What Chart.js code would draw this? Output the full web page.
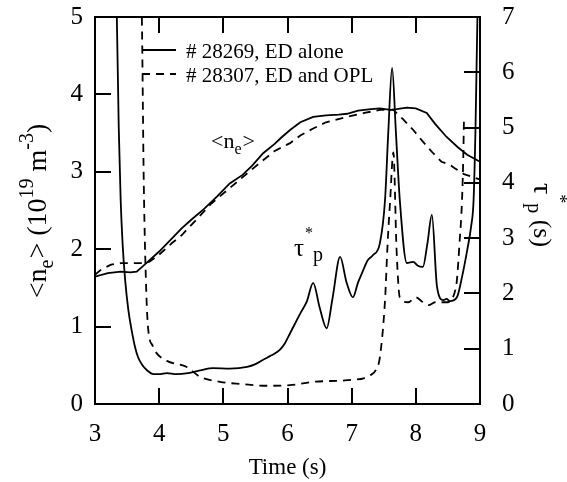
<!DOCTYPE html>
<html>
<head>
<meta charset="utf-8">
<script src="https://cdn.jsdelivr.net/npm/chart.js@4.4.0/dist/chart.umd.min.js"></script>
<style>
  html, body { margin: 0; padding: 0; background: #fff; }
  #wrap { width: 567px; height: 482px; }
</style>
</head>
<body>
<div id="wrap"><canvas id="c" width="567" height="482"></canvas></div>
<script>
// shot 28269 (ED alone) - line average density
const tNeA  = [3.0, 3.2, 3.4, 3.55, 3.65, 3.8, 4.0, 4.2, 4.35, 4.5, 4.7, 4.9, 5.1, 5.3, 5.45, 5.62, 5.8, 5.9, 6.04, 6.2, 6.4, 6.6, 6.8, 6.93, 7.1, 7.3, 7.44, 7.6, 7.7, 7.86, 8.0, 8.17, 8.3, 8.48, 8.65, 8.8, 9.0];
const neA   = [1.645, 1.69, 1.71, 1.70, 1.71, 1.82, 1.97, 2.14, 2.27, 2.38, 2.52, 2.68, 2.85, 2.96, 3.08, 3.24, 3.36, 3.44, 3.54, 3.64, 3.71, 3.73, 3.74, 3.75, 3.79, 3.81, 3.82, 3.80, 3.81, 3.83, 3.82, 3.76, 3.62, 3.45, 3.32, 3.22, 3.13];
// shot 28307 (ED and OPL) - line average density
const tNeB  = [3.0, 3.1, 3.25, 3.4, 3.6, 3.75, 3.85, 4.0, 4.2, 4.35, 4.6, 4.8, 5.1, 5.4, 5.62, 5.8, 6.04, 6.2, 6.4, 6.6, 6.93, 7.2, 7.44, 7.65, 7.8, 7.96, 8.1, 8.27, 8.4, 8.53, 8.6, 8.75, 9.0];
const neB   = [1.67, 1.74, 1.80, 1.82, 1.82, 1.82, 1.84, 1.93, 2.08, 2.18, 2.40, 2.58, 2.79, 3.00, 3.15, 3.27, 3.37, 3.47, 3.56, 3.64, 3.71, 3.76, 3.80, 3.80, 3.68, 3.54, 3.40, 3.24, 3.13, 3.09, 3.05, 2.97, 2.90];
// particle confinement time tau_p* (right axis)
const tTauA = [3.30, 3.34, 3.37, 3.40, 3.43, 3.47, 3.52, 3.57, 3.62, 3.67, 3.74, 3.81, 3.91, 4.0, 4.12, 4.27, 4.45, 4.64, 4.84, 5.1, 5.37, 5.5, 5.62, 5.75, 5.88, 5.96, 6.04, 6.12, 6.2, 6.3, 6.4, 6.5, 6.61, 6.7, 6.82, 6.92, 7.02, 7.1, 7.18, 7.25, 7.33, 7.44, 7.52, 7.57, 7.63, 7.69, 7.75, 7.86, 7.96, 8.03, 8.11, 8.18, 8.25, 8.33, 8.43, 8.48, 8.53, 8.64, 8.72, 8.8, 8.86, 8.9, 8.93, 8.96, 8.98];
const tauA  = [8.0, 7.0, 5.0, 3.69, 2.9, 2.24, 1.7, 1.34, 1.05, 0.85, 0.70, 0.61, 0.54, 0.54, 0.56, 0.54, 0.56, 0.61, 0.65, 0.64, 0.67, 0.72, 0.80, 0.88, 0.98, 1.1, 1.28, 1.46, 1.64, 1.85, 2.19, 1.75, 1.37, 1.9, 2.66, 2.2, 1.93, 2.2, 2.42, 2.6, 2.69, 2.91, 3.69, 4.9, 6.08, 4.9, 3.69, 2.55, 2.57, 2.5, 2.48, 2.9, 3.42, 2.12, 1.88, 1.9, 1.86, 1.93, 2.3, 2.78, 3.2, 3.69, 5.0, 7.0, 8.0];
const tTauB = [3.70, 3.73, 3.76, 3.80, 3.83, 3.9, 3.96, 4.12, 4.43, 4.64, 4.95, 5.3, 5.62, 6.04, 6.4, 6.93, 7.2, 7.29, 7.38, 7.44, 7.52, 7.56, 7.6, 7.65, 7.7, 7.75, 7.88, 8.0, 8.1, 8.2, 8.3, 8.5, 8.6, 8.64, 8.68, 8.72, 8.74, 8.75];
const tauB  = [8.0, 7.0, 4.0, 2.0, 1.34, 1.05, 0.92, 0.78, 0.67, 0.49, 0.40, 0.36, 0.33, 0.34, 0.40, 0.43, 0.47, 0.52, 0.62, 0.85, 1.88, 2.9, 3.69, 4.55, 2.78, 1.93, 1.84, 1.93, 1.85, 1.79, 1.84, 1.84, 2.0, 2.24, 2.9, 3.69, 4.5, 5.15];

const timeTicks = [3, 4, 5, 6, 7, 8, 9];
const neTicks = [0, 1, 2, 3, 4, 5];
const tauTicks = [0, 1, 2, 3, 4, 5, 6, 7];
const legendLabels = ['# 28269, ED alone', '# 28307, ED and OPL'];

const serif = '"Liberation Serif", "Times New Roman", serif';
const pts = (xs, ys) => xs.map((x, i) => ({ x: x, y: ys[i] }));

// draw a run of text pieces [text, size, dy] starting at (x, y)
function pieces(ctx, x, y, list) {
  let cx = x;
  list.forEach(p => {
    ctx.font = p[1] + 'px ' + serif;
    ctx.fillText(p[0], cx, y + p[2]);
    cx += ctx.measureText(p[0]).width + (p[3] || 0);
  });
  return cx - x;
}
function piecesWidth(ctx, list) {
  let w = 0;
  list.forEach(p => {
    ctx.font = p[1] + 'px ' + serif;
    w += ctx.measureText(p[0]).width + (p[3] || 0);
  });
  return w;
}

const decor = {
  id: 'decor',
  afterDraw(chart) {
    const ctx = chart.ctx;
    const a = chart.chartArea;
    const xs = chart.scales.x, y = chart.scales.y, y1 = chart.scales.y1;
    ctx.save();
    ctx.strokeStyle = '#000';
    ctx.fillStyle = '#000';
    ctx.lineWidth = 2;
    ctx.strokeRect(a.left, a.top, a.right - a.left, a.bottom - a.top);
    const tl = 16;
    ctx.beginPath();
    timeTicks.slice(1, -1).forEach(v => {
      const px = Math.round(xs.getPixelForValue(v));
      ctx.moveTo(px, a.bottom); ctx.lineTo(px, a.bottom - tl);
      ctx.moveTo(px, a.top); ctx.lineTo(px, a.top + tl);
    });
    neTicks.slice(1, -1).forEach(v => {
      const py = Math.round(y.getPixelForValue(v));
      ctx.moveTo(a.left, py); ctx.lineTo(a.left + tl, py);
    });
    tauTicks.slice(1, -1).forEach(v => {
      const py = Math.round(y1.getPixelForValue(v));
      ctx.moveTo(a.right, py); ctx.lineTo(a.right - tl, py);
    });
    ctx.stroke();

    // legend
    ctx.lineWidth = 1.8;
    ctx.beginPath();
    ctx.moveTo(142, 50); ctx.lineTo(176, 50);
    ctx.stroke();
    ctx.setLineDash([8, 6]);
    ctx.beginPath();
    ctx.moveTo(142, 74); ctx.lineTo(176, 74);
    ctx.stroke();
    ctx.setLineDash([]);
    ctx.textBaseline = 'alphabetic';
    ctx.textAlign = 'left';
    ctx.font = '21px ' + serif;
    ctx.fillText(legendLabels[0], 186, 58);
    ctx.fillText(legendLabels[1], 186, 82);

    // curve annotations
    pieces(ctx, 211, 148, [['<n', 22, 0], ['e', 16, 6, 1], ['>', 22, 0]]);
    pieces(ctx, 294, 256, [['\u03c4', 25, 0, 1], ['*', 16, -18, 0], ['p', 20, 5]]);

    // left axis title, rotated
    const leftT = [['<n', 28, 0], ['e', 20, 7, 1], ['> (10', 28, 0], ['19', 20, -13], [' m', 28, 0], ['-3', 20, -13], [')', 28, 0]];
    const lw = piecesWidth(ctx, leftT);
    ctx.save();
    ctx.translate(46, 211 + lw / 2);
    ctx.rotate(-Math.PI / 2);
    pieces(ctx, 0, 0, leftT);
    ctx.restore();

    // right axis title, rotated the other way
    const rightT = [['\u03c4', 28, 0, 0], ['*', 18, -20, 0], ['p', 20, 6], [' (s)', 26, 0]];
    const rw = piecesWidth(ctx, rightT);
    ctx.save();
    ctx.translate(534, 215 - rw / 2);
    ctx.rotate(Math.PI / 2);
    pieces(ctx, 0, 0, rightT);
    ctx.restore();
    ctx.restore();
  }
};

const solid = { borderColor: '#000', borderWidth: 1.8, pointRadius: 0, fill: false };

// keep the plot box at fixed pixels, as in the figure
const fitY = w => s => { s.width = w; s.paddingTop = 0; s.paddingBottom = 0; };

new Chart(document.getElementById('c'), {
  type: 'line',
  data: {
    datasets: [
      Object.assign({ label: legendLabels[0], data: pts(tNeA, neA), yAxisID: 'y' }, solid),
      Object.assign({ label: legendLabels[1], data: pts(tNeB, neB), yAxisID: 'y', borderDash: [8, 6] }, solid),
      Object.assign({ label: 'tauA', data: pts(tTauA, tauA), yAxisID: 'y1', cubicInterpolationMode: 'monotone' }, solid),
      Object.assign({ label: 'tauB', data: pts(tTauB, tauB), yAxisID: 'y1', borderDash: [8, 6], cubicInterpolationMode: 'monotone' }, solid)
    ]
  },
  options: {
    responsive: false,
    animation: false,
    layout: { padding: { top: 17, left: 0, right: 0, bottom: 0 } },
    plugins: { legend: { display: false }, tooltip: { enabled: false } },
    scales: {
      x: {
        type: 'linear', min: 3, max: 9,
        grid: { display: false }, border: { display: false },
        ticks: { stepSize: 1, color: '#000', font: { family: serif, size: 25 }, padding: 7 },
        title: { display: true, text: 'Time (s)', color: '#000', font: { family: serif, size: 23 }, padding: { top: 0, bottom: 0 } },
        afterFit: s => { s.height = 78; s.paddingLeft = 0; s.paddingRight = 0; }
      },
      y: {
        position: 'left', min: 0, max: 5,
        grid: { display: false }, border: { display: false },
        ticks: { stepSize: 1, color: '#000', font: { family: serif, size: 25 }, padding: 4 },
        afterFit: fitY(95)
      },
      y1: {
        position: 'right', min: 0, max: 7,
        grid: { display: false }, border: { display: false },
        ticks: { stepSize: 1, color: '#000', font: { family: serif, size: 25 }, padding: 14 },
        afterFit: fitY(87)
      }
    }
  },
  plugins: [decor]
});
</script>
</body>
</html>
